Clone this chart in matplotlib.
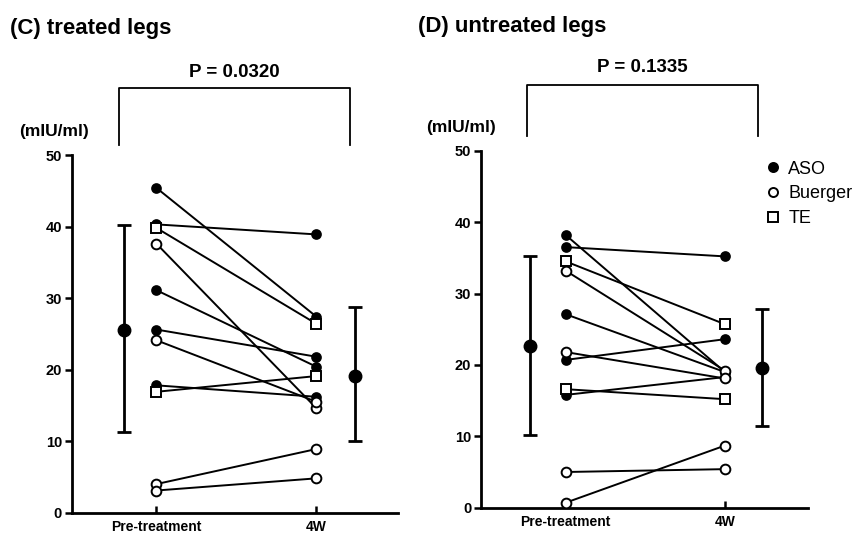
import matplotlib
matplotlib.use("Agg")
import matplotlib.pyplot as plt
from matplotlib.lines import Line2D

plt.rcParams['font.family'] = ['Liberation Sans', 'DejaVu Sans']

# ---- data ----
timepoints = ["Pre-treatment", "4W"]

# (C) treated legs
c_types = ["ASO", "ASO", "TE", "Buerger", "ASO", "ASO", "Buerger", "ASO", "TE", "Buerger", "Buerger"]
c_pre   = [45.4, 40.3, 39.8, 37.6, 31.1, 25.6, 24.1, 17.8, 16.9, 4.0, 3.1]
c_post  = [27.4, 38.9, 26.4, 14.6, 20.4, 21.8, 15.5, 16.2, 19.1, 8.9, 4.8]
c_mean  = [25.6, 19.1]
c_sd_hi = [40.2, 28.7]
c_sd_lo = [11.3, 10.0]
c_p = "P = 0.0320"

# (D) untreated legs
d_types = ["ASO", "ASO", "TE", "Buerger", "ASO", "Buerger", "ASO", "TE", "ASO", "Buerger", "Buerger"]
d_pre   = [38.2, 36.5, 34.5, 33.2, 27.1, 21.8, 20.7, 16.6, 15.8, 5.0, 0.7]
d_post  = [19.0, 35.2, 25.7, 19.2, 19.0, 18.1, 23.6, 15.2, 18.3, 5.4, 8.7]
d_mean  = [22.6, 19.5]
d_sd_hi = [35.2, 27.9]
d_sd_lo = [10.2, 11.4]
d_p = "P = 0.1335"

yticks = [0, 10, 20, 30, 40, 50]

styles = {
    "ASO": dict(marker="o", mfc="black", mec="black", ms=6.5, mew=1.2, z=3),
    "Buerger": dict(marker="o", mfc="white", mec="black", ms=7, mew=1.4, z=4),
    "TE": dict(marker="s", mfc="white", mec="black", ms=6.5, mew=1.4, z=5),
}

fig = plt.figure(figsize=(8.68, 5.36), dpi=100)

def panel(rect, xlim, types, pre, post, mean, hi, lo, mean_x, bracket, ptext, pos_y):
    ax = fig.add_axes(rect)
    for t, a, b in zip(types, pre, post):
        ax.plot([1, 2], [a, b], color="black", lw=1.4, zorder=2)
    for t, a, b in zip(types, pre, post):
        s = styles[t]
        ax.plot([1, 2], [a, b], ls="none", marker=s["marker"], mfc=s["mfc"],
                mec=s["mec"], ms=s["ms"], mew=s["mew"], zorder=s["z"])
    for xm, m, h, l in zip(mean_x, mean, hi, lo):
        ax.errorbar([xm], [m], yerr=[[m - l], [h - m]], fmt="o", color="black",
                    ms=9, elinewidth=2.0, capsize=5, capthick=2.0, zorder=6)
    ax.set_xlim(*xlim)
    ax.set_ylim(0, 50)
    ax.set_yticks(yticks)
    ax.set_xticks([1, 2])
    ax.set_xticklabels(timepoints, fontsize=10, fontweight="bold")
    for lab in ax.get_yticklabels():
        lab.set_fontsize(10.5)
        lab.set_fontweight("bold")
    ax.tick_params(axis="y", direction="out", length=5, width=1.8, pad=2)
    ax.tick_params(axis="x", direction="in", length=5, width=1.8, pad=5)
    for sp in ["top", "right"]:
        ax.spines[sp].set_visible(False)
    for sp in ["left", "bottom"]:
        ax.spines[sp].set_linewidth(2.0)
    x0, x1, yb, yt = bracket
    ax.plot([x0, x0, x1, x1], [yb, yt, yt, yb], color="black", lw=1.3, clip_on=False)
    ax.text((x0 + x1) / 2, pos_y, ptext, ha="center", va="center", fontsize=13.5,
            fontweight="bold")
    return ax

axC = panel([0.0826, 0.0435, 0.3759, 0.6673], (0.47, 2.51), c_types, c_pre, c_post,
            c_mean, c_sd_hi, c_sd_lo, [0.80, 2.24], (0.764, 2.208, 51.4, 59.4), c_p, 61.6)
axD = panel([0.5541, 0.0528, 0.3764, 0.6660], (0.468, 2.52), d_types, d_pre, d_post,
            d_mean, d_sd_hi, d_sd_lo, [0.776, 2.234], (0.755, 2.209, 52.0, 59.2), d_p, 61.6)

handles = [Line2D([], [], ls="none", marker=styles[k]["marker"], mfc=styles[k]["mfc"],
                  mec="black", ms=6.5, mew=1.4, label=k) for k in ["ASO", "Buerger", "TE"]]
axD.legend(handles=handles, loc="upper left", bbox_to_anchor=(0.872, 0.972), frameon=False,
           fontsize=13, handlelength=0.8, handletextpad=0.45, labelspacing=0.42,
           borderpad=0, borderaxespad=0)

fig.text(0.011, 0.946, "(C) treated legs", fontsize=16, fontweight="bold", va="center", ha="left")
fig.text(0.481, 0.950, "(D) untreated legs", fontsize=16, fontweight="bold", va="center", ha="left")
fig.text(0.022, 0.755, "(mIU/ml)", fontsize=12.5, fontweight="bold", va="center", ha="left")
fig.text(0.491, 0.763, "(mIU/ml)", fontsize=12.5, fontweight="bold", va="center", ha="left")

fig.savefig("out.png", dpi=100)
